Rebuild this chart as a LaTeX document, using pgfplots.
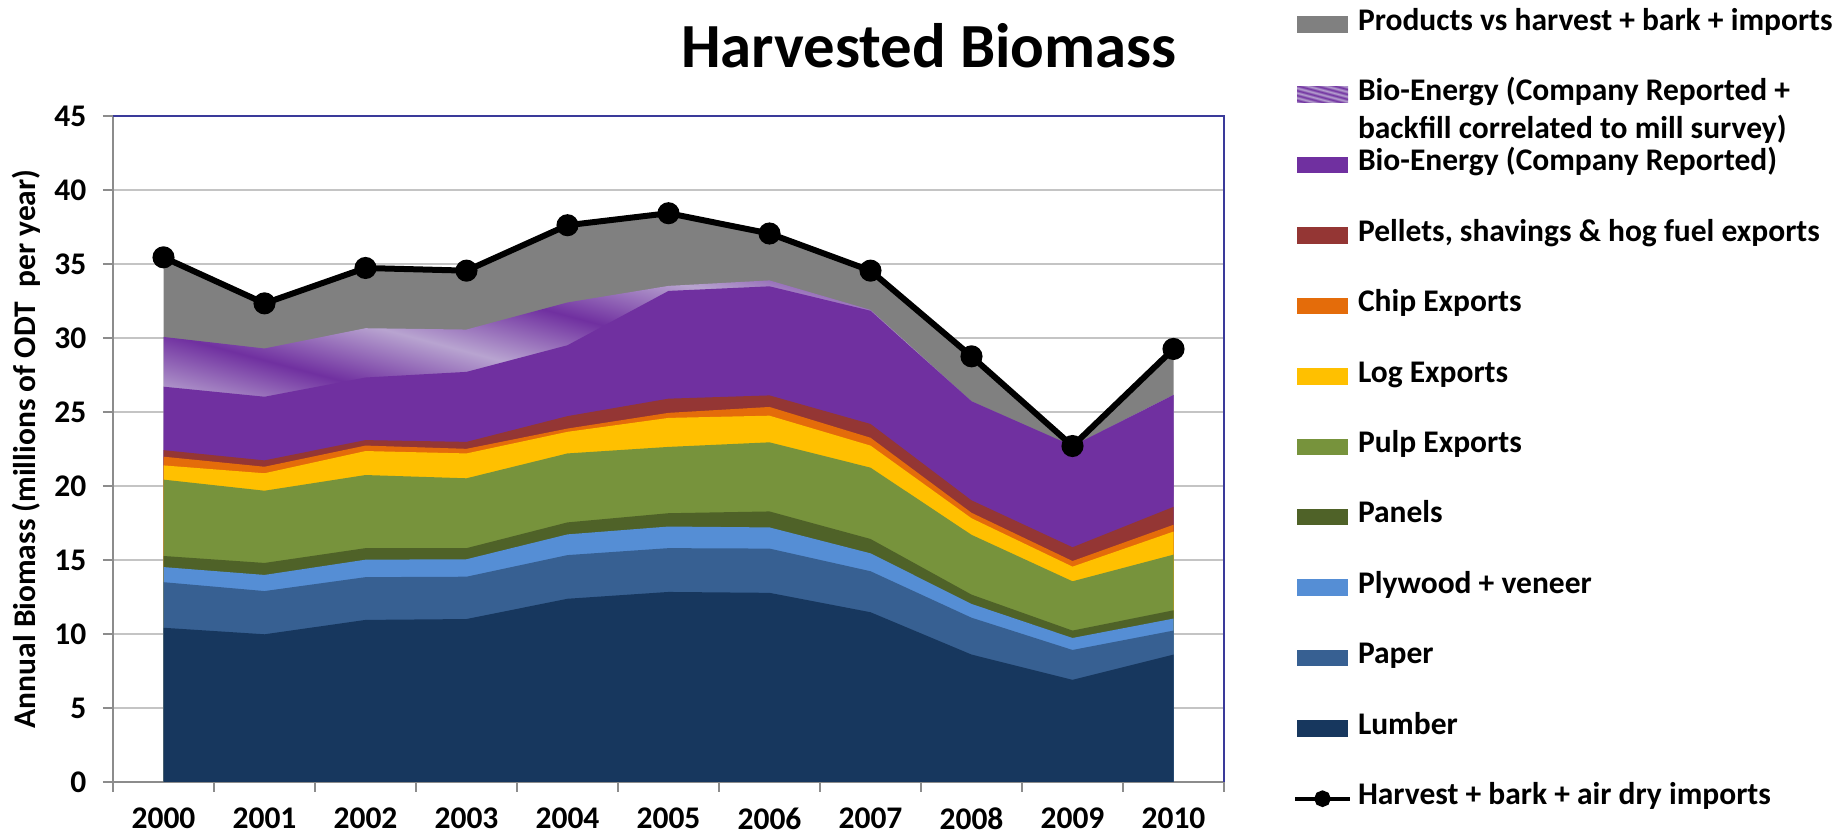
\documentclass[border=0pt]{standalone}
\usepackage{pgfplots}
\pgfplotsset{compat=1.18}
\usepackage{pgfplotstable}
\usepackage{fontspec}
\setmainfont{Carlito}
\definecolor{cLumber}{HTML}{17375E}
\definecolor{cPaper}{HTML}{376092}
\definecolor{cPly}{HTML}{558ED5}
\definecolor{cPanels}{HTML}{4F6228}
\definecolor{cPulp}{HTML}{77933C}
\definecolor{cLog}{HTML}{FFC000}
\definecolor{cChip}{HTML}{E46C0A}
\definecolor{cPellets}{HTML}{943634}
\definecolor{cBio}{HTML}{7030A0}
\definecolor{cGrey}{HTML}{808080}
\definecolor{bioL}{RGB}{184,164,208}
\definecolor{bioD}{RGB}{112,48,160}
\definecolor{frameblue}{HTML}{3A3A9A}
\definecolor{axgray}{HTML}{8C8C8C}
\definecolor{gridgray}{HTML}{C4C4C4}
\pgfdeclarehorizontalshading{bioband}{100bp}{color(0bp)=(bioL); color(5bp)=(bioD); color(10bp)=(bioL); color(15bp)=(bioD); color(20bp)=(bioL); color(25bp)=(bioD); color(30bp)=(bioL); color(35bp)=(bioD); color(40bp)=(bioL); color(45bp)=(bioD); color(50bp)=(bioL); color(55bp)=(bioD); color(60bp)=(bioL); color(65bp)=(bioD); color(70bp)=(bioL); color(75bp)=(bioD); color(80bp)=(bioL); color(85bp)=(bioD); color(90bp)=(bioL); color(95bp)=(bioD); color(100bp)=(bioL)}
\newcommand\lf{\fontsize{15.75}{19}\selectfont\bfseries}
\pgfplotstableread{
x lumber paper plywood panels pulp log chip pellets bio backfill harvest
0 10.42 13.50 14.52 15.27 20.43 21.39 21.98 22.42 26.71 30.07 35.45
1 9.98 12.90 13.99 14.80 19.68 20.86 21.30 21.73 26.03 29.29 32.34
2 10.95 13.84 15.02 15.80 20.74 22.36 22.73 23.10 27.33 30.66 34.73
3 11.01 13.87 15.05 15.80 20.52 22.20 22.51 22.98 27.71 30.57 34.55
4 12.38 15.33 16.73 17.54 22.20 23.66 23.88 24.72 29.51 32.40 37.62
5 12.84 15.80 17.26 18.16 22.64 24.60 24.94 25.90 33.18 33.52 38.43
6 12.78 15.77 17.20 18.28 22.95 24.75 25.34 26.12 33.49 33.89 37.06
7 11.47 14.24 15.45 16.42 21.24 22.73 23.26 24.19 31.84 31.90 34.55
8 8.61 11.10 12.03 12.66 16.70 17.82 18.19 19.03 25.72 25.72 28.76
9 6.90 8.92 9.73 10.23 13.56 14.55 14.93 15.86 22.70 22.70 22.70
10 8.61 10.23 11.04 11.60 15.36 16.92 17.38 18.59 26.15 26.15 29.26
}\data
\begin{document}
\begin{tikzpicture}
\useasboundingbox (0,0) rectangle (923.5pt,419pt);
\node[anchor=base, font=\fontsize{31.4}{36}\selectfont\bfseries] at (464.5pt,385pt) {Harvested Biomass};
\begin{axis}[
  at={(56.5pt,28pt)}, anchor=south west,
  width=555.5pt, height=333pt, scale only axis,
  xmin=-0.5, xmax=10.5, ymin=0, ymax=45,
  xtick={0,...,10},
  xticklabels={2000,2001,2002,2003,2004,2005,2006,2007,2008,2009,2010},
  minor xtick={-0.5,0.5,...,10.5},
  major x tick style={draw=none},
  minor x tick style={axgray, line width=1pt},
  minor tick length=5pt,
  ytick={0,5,...,45},
  major tick length=5pt,
  y tick style={axgray, line width=1pt},
  tick align=outside,
  ymajorgrids, grid style={gridgray, line width=1pt},
  axis x line*=bottom, axis y line*=left,
  axis line style={axgray, line width=1pt, -},
  /pgf/number format/assume math mode=true,
  ticklabel style={font=\lf},
  yticklabel style={xshift=-4.8pt},
  xticklabel style={yshift=-4.5pt},
  ylabel={Annual Biomass (millions of ODT\ \ per year)},
  ylabel style={font=\lf, at={(axis description cs:-0.0783,0.5)}, anchor=center},
  legend cell align=left,
  legend style={draw=none, fill=none, at={(1.0621,1.165)}, anchor=north west,
    inner sep=0pt, outer sep=0pt, row sep=0pt, column sep=3pt, font=\lf,
    nodes={inner sep=0pt, text height=12pt, text depth=23.2pt}},
  area legend,
  legend image code/.code={\fill[#1] (0pt,4.4pt) rectangle (25.5pt,12.6pt);},
  after end axis/.code={\draw[frameblue, line width=1pt] (rel axis cs:0,1) -- (rel axis cs:1,1) -- (rel axis cs:1,0);},
]
\addplot[draw=none, fill=cGrey] table[x=x,y=harvest]{\data} \closedcycle;
\addlegendentry{Products vs harvest + bark + imports}
\addplot[draw=none, shade, shading=bioband, shading angle=75] table[x=x,y=backfill]{\data} \closedcycle;
\addlegendentry{\parbox[t]{300pt}{Bio-Energy (Company Reported +\\backfill correlated to mill survey)}}
\addplot[draw=none, fill=cBio] table[x=x,y=bio]{\data} \closedcycle;
\addlegendentry{Bio-Energy (Company Reported)}
\addplot[draw=none, fill=cPellets] table[x=x,y=pellets]{\data} \closedcycle;
\addlegendentry{Pellets, shavings \& hog fuel exports}
\addplot[draw=none, fill=cChip] table[x=x,y=chip]{\data} \closedcycle;
\addlegendentry{Chip Exports}
\addplot[draw=none, fill=cLog] table[x=x,y=log]{\data} \closedcycle;
\addlegendentry{Log Exports}
\addplot[draw=none, fill=cPulp] table[x=x,y=pulp]{\data} \closedcycle;
\addlegendentry{Pulp Exports}
\addplot[draw=none, fill=cPanels] table[x=x,y=panels]{\data} \closedcycle;
\addlegendentry{Panels}
\addplot[draw=none, fill=cPly] table[x=x,y=plywood]{\data} \closedcycle;
\addlegendentry{Plywood + veneer}
\addplot[draw=none, fill=cPaper] table[x=x,y=paper]{\data} \closedcycle;
\addlegendentry{Paper}
\addplot[draw=none, fill=cLumber] table[x=x,y=lumber]{\data} \closedcycle;
\addlegendentry{Lumber}
\addplot[black, line width=3pt, mark=*, mark size=4pt, mark options={solid},
  legend image code/.code={\draw[black, line width=2pt] (-1pt,8.5pt) -- (26.5pt,8.5pt); \fill[black] (12.75pt,8.5pt) circle (2.6pt);}]
  table[x=x,y=harvest]{\data};
\addlegendentry{Harvest + bark + air dry imports}
\end{axis}
\end{tikzpicture}
\end{document}
